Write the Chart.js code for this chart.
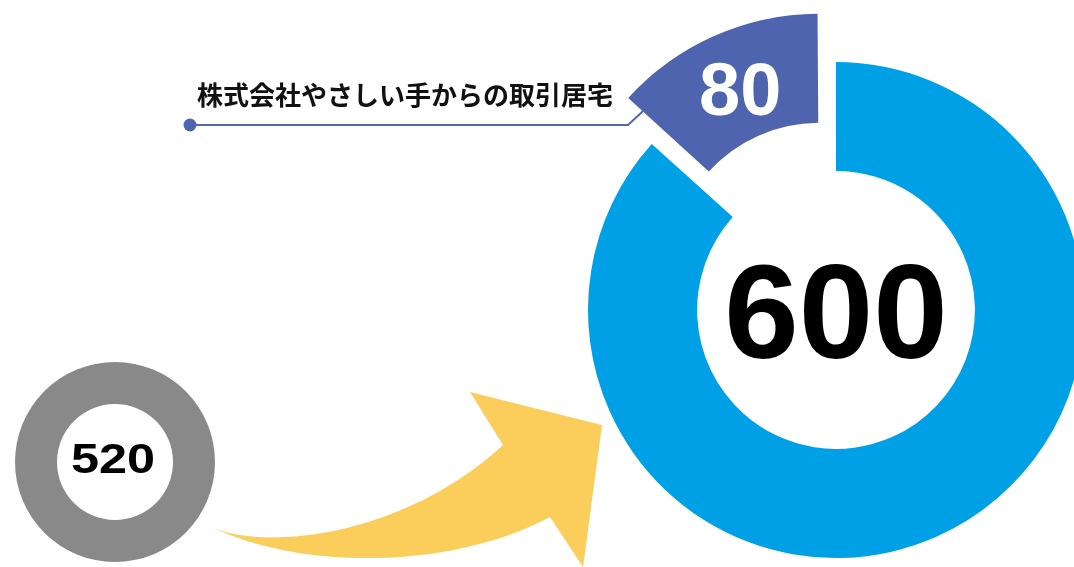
<!DOCTYPE html>
<html>
<head>
<meta charset="utf-8">
<script src="https://cdn.jsdelivr.net/npm/chart.js@4.4.1/dist/chart.umd.min.js"></script>
<style>
  html, body { margin: 0; padding: 0; background: #fff; overflow: hidden; width: 1074px; height: 567px; }
  #mainChart { position: absolute; left: 0; top: 0; }
  #beforeChart { position: absolute; left: 0; top: 347px; }
</style>
</head>
<body>
<canvas id="mainChart" width="1074" height="567"></canvas>
<canvas id="beforeChart" width="230" height="230"></canvas>
<script>
// before: number of partner offices
const beforeLabels = ['以前の取引居宅'];
const beforeValues = [520];

// after: the rest + the new ones from the company
const afterLabels = ['その他の取引居宅', '株式会社やさしい手からの取引居宅'];
const afterValues = [520, 80];

const numFont = '"Liberation Sans", Arial, sans-serif';
const jpFont = '"Noto Sans CJK JP", "Noto Sans", sans-serif';

function sum(arr) {
    return arr.reduce(function (a, b) { return a + b; }, 0);
}

// yellow arrow, leader line and texts for the big ring
const mainDecor = {
    id: 'mainDecor',
    beforeDatasetsDraw: function (chart) {
        const ctx = chart.ctx;
        ctx.save();
        ctx.fillStyle = '#FBCD5A';
        ctx.beginPath();
        ctx.moveTo(212, 527);
        ctx.bezierCurveTo(260, 550, 400, 540, 503, 445);
        ctx.lineTo(470, 392);
        ctx.lineTo(602, 425);
        ctx.lineTo(583, 567);
        ctx.lineTo(550, 517);
        ctx.bezierCurveTo(450, 570, 300, 570, 212, 527);
        ctx.closePath();
        ctx.fill();

        // leader line to the exploded slice
        ctx.strokeStyle = '#5366B0';
        ctx.lineWidth = 2;
        ctx.beginPath();
        ctx.moveTo(190, 125);
        ctx.lineTo(628, 125);
        ctx.lineTo(655, 100);
        ctx.stroke();
        ctx.fillStyle = '#4F64AF';
        ctx.beginPath();
        ctx.arc(190, 125, 6.5, 0, Math.PI * 2);
        ctx.fill();

        ctx.fillStyle = '#111';
        ctx.font = 'bold 26px ' + jpFont;
        ctx.textAlign = 'left';
        ctx.textBaseline = 'middle';
        ctx.fillText(afterLabels[1], 197, 95);
        ctx.restore();
    },
    afterDatasetsDraw: function (chart) {
        const ctx = chart.ctx;
        const meta = chart.getDatasetMeta(0);
        const arc0 = meta.data[0];
        ctx.save();
        ctx.textAlign = 'center';
        ctx.textBaseline = 'alphabetic';

        // total in the middle
        ctx.fillStyle = '#000';
        ctx.font = 'bold 134px ' + numFont;
        ctx.fillText(String(sum(afterValues)), arc0.x, arc0.y + 0.358 * 134);

        // value on the exploded slice
        const arc = meta.data[1];
        const mid = (arc.startAngle + arc.endAngle) / 2;
        const circ = arc.endAngle - arc.startAngle;
        const off = (arc.options.offset || 0) / 4 * (2 - Math.sin(Math.min(Math.PI, circ)));
        const rMid = (arc.innerRadius + arc.outerRadius) / 2 + off;
        const lx = arc.x + Math.cos(mid) * rMid;
        const ly = arc.y + Math.sin(mid) * rMid;
        ctx.fillStyle = '#fff';
        ctx.font = 'bold 74px ' + numFont;
        ctx.fillText(String(afterValues[1]), lx + 4, ly + 0.358 * 74 + 3);
        ctx.restore();
    }
};

const beforeDecor = {
    id: 'beforeDecor',
    afterDatasetsDraw: function (chart) {
        const ctx = chart.ctx;
        const arc = chart.getDatasetMeta(0).data[0];
        ctx.save();
        ctx.fillStyle = '#000';
        ctx.font = 'bold 42px ' + numFont;
        ctx.textAlign = 'center';
        ctx.textBaseline = 'alphabetic';
        ctx.translate(arc.x - 2, arc.y + 11);
        ctx.scale(1.2, 1);
        ctx.fillText(String(sum(beforeValues)), 0, 0);
        ctx.restore();
    }
};

new Chart(document.getElementById('mainChart'), {
    type: 'doughnut',
    data: {
        labels: afterLabels,
        datasets: [{
            data: afterValues,
            backgroundColor: ['#00A0E6', '#4F64AF'],
            borderWidth: 0,
            offset: [0, 165],
            clip: false
        }]
    },
    options: {
        responsive: false,
        animation: false,
        events: [],
        radius: 248,
        cutout: '56%',
        layout: { padding: { left: 598, top: 53, right: 0, bottom: 0 } },
        plugins: { legend: { display: false }, tooltip: { enabled: false } }
    },
    plugins: [mainDecor]
});

new Chart(document.getElementById('beforeChart'), {
    type: 'doughnut',
    data: {
        labels: beforeLabels,
        datasets: [{
            data: beforeValues,
            backgroundColor: ['#898989'],
            borderWidth: 0
        }]
    },
    options: {
        responsive: false,
        animation: false,
        events: [],
        radius: 100,
        cutout: '58%',
        plugins: { legend: { display: false }, tooltip: { enabled: false } }
    },
    plugins: [beforeDecor]
});
</script>
</body>
</html>
